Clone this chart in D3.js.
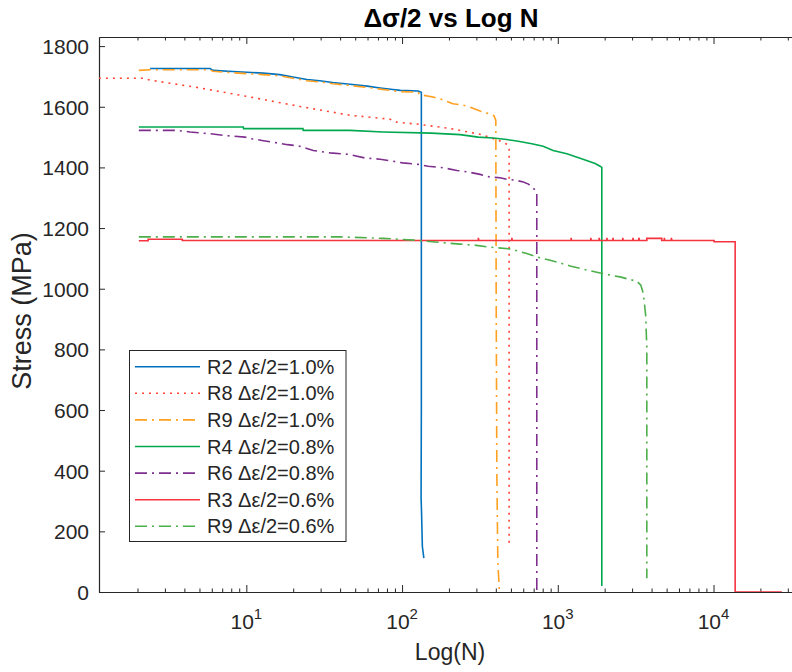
<!DOCTYPE html>
<html><head><meta charset="utf-8">
<script src="https://cdn.jsdelivr.net/npm/d3@7"></script>
<style>
body{margin:0;background:#fff;}
text{font-family:"Liberation Sans",Arial,Helvetica,sans-serif;}
</style>
</head><body>
<svg id="chart" width="792" height="672"></svg>
<script>
// ---------- data (N cycles, stress MPa) ----------
const titleText = "Δσ/2 vs Log N";
const xLabel = "Log(N)";
const yLabel = "Stress (MPa)";
const xTickExponents = [1, 2, 3, 4];
const yTickValues = [0, 200, 400, 600, 800, 1000, 1200, 1400, 1600, 1800];
const seriesNames = ["R2 Δε/2=1.0%", "R8 Δε/2=1.0%", "R9 Δε/2=1.0%", "R4 Δε/2=0.8%", "R6 Δε/2=0.8%", "R3 Δε/2=0.6%", "R9 Δε/2=0.6%"];

const r2 = [[2.41,1726],[5.85,1726],[6.1,1720],[8.2,1716],[12.8,1711],[16.4,1706],[19.9,1698],[24.5,1690],[29.6,1686],[35.9,1680],[46.3,1674],[59.6,1668],[72.3,1662],[87.3,1657],[97.5,1654],[126.7,1652],[133,1648],[133,600],[132.5,310],[133.5,255],[135,150],[138,112]];
const r8 = [[1.13,1694],[2.17,1694],[2.41,1688],[5.04,1662],[10.6,1632],[22.1,1601],[46.3,1572],[83.7,1559],[92.9,1549],[124,1543],[200,1529],[325,1508],[432,1486],[472,1476],[487,1460],[487,155]];
const r9a = [[2.04,1720],[2.41,1722],[5.85,1722],[6.1,1717],[8.2,1712],[12.8,1706],[16.4,1702],[19.9,1694],[24.5,1686],[29.6,1682],[35.9,1676],[46.3,1670],[59.6,1664],[72.3,1658],[87.3,1653],[97.5,1650],[126.7,1648],[130,1640],[158,1632],[183,1623],[212,1610],[243,1606],[273,1599],[317,1586],[367,1576],[390,1570],[400,1555],[402,1000],[406,400],[412,100],[422,0]];
const r4 = [[2.04,1533],[9.56,1533],[9.6,1528],[23.1,1528],[23.2,1522],[46.3,1522],[75.5,1517],[154,1513],[236,1508],[308,1500],[386,1497],[470,1492],[545,1487],[681,1478],[805,1470],[933,1456],[1143,1445],[1452,1427],[1736,1413],[1869,1404],[1917,1400],[1917,20]];
const r6 = [[2.04,1522],[3.59,1522],[4.35,1517],[5.84,1511],[7.3,1505],[9.8,1500],[10.6,1495],[12.6,1489],[15.7,1481],[18.4,1475],[21.6,1471],[26.9,1456],[34.5,1448],[45.2,1443],[57.8,1431],[72.3,1427],[86,1421],[101,1415],[127,1410],[147,1404],[183,1399],[225,1390],[265,1385],[317,1377],[367,1368],[426,1366],[470,1361],[532,1358],[601,1352],[648,1345],[720,1325],[733,1319],[733,0]];
const r3 = [[2.04,1158],[2.34,1158],[2.34,1163],[3.88,1163],[3.88,1159],[309,1159],[309,1168],[311,1159],[507,1159],[507,1168],[510,1159],[1218,1159],[1218,1168],[1225,1159],[1628,1159],[1628,1168],[1640,1159],[1843,1159],[1843,1168],[1855,1159],[2067,1159],[2067,1168],[2080,1159],[2260,1159],[2260,1168],[2275,1159],[2612,1159],[2612,1168],[2630,1159],[3038,1159],[3038,1168],[3060,1159],[3314,1159],[3314,1168],[3340,1159],[3730,1159],[3730,1166],[4650,1166],[4650,1159],[4830,1159],[4830,1168],[4860,1159],[5360,1159],[5360,1168],[5400,1159],[10090,1159],[10090,1155],[13770,1155],[13770,0],[27470,0]];
const r9b = [[2.04,1171],[40.2,1171],[75.5,1166],[124,1160],[163,1154],[236,1147],[300,1143],[350,1138],[482,1132],[530,1127],[632,1116],[770,1102],[893,1094],[1035,1085],[1199,1075],[1391,1067],[1614,1059],[1869,1052],[2167,1045],[2512,1039],[2914,1030],[3215,1025],[3413,1012],[3515,990],[3583,962],[3675,907],[3700,853],[3730,814],[3730,45]];
const seriesData = [r2, r8, r9a, r4, r6, r3, r9b];

// ---------- styles ----------
const seriesColors = ["#0072BD", "#FF4433", "#FFA020", "#00A84F", "#7E2F8E", "#F5333F", "#4DAF4A"];
const seriesDash = [null, "2,5", "12,5,2,5", null, "12,5,2,5", null, "12,5,2,5"];
const seriesWidth = [1.6, 1.6, 1.6, 1.6, 1.6, 1.6, 1.6];

const svg = d3.select("#chart");
const M = {left: 99, top: 37, right: 802, bottom: 592};
const axisColor = "#262626";

const x = d3.scaleLog().domain([1.132, 37000]).range([M.left, M.right]);
const y = d3.scaleLinear().domain([0, 1830]).range([M.bottom, M.top]);

svg.append("defs").append("clipPath").attr("id", "clip")
  .append("rect").attr("x", M.left).attr("y", M.top)
  .attr("width", M.right - M.left).attr("height", M.bottom - M.top);

// minor ticks
const minorTicks = [];
for (let e = 0; e <= 4; e++) for (let m = 2; m <= 9; m++) {
  const v = m * Math.pow(10, e);
  if (v >= x.domain()[0] && v <= x.domain()[1]) minorTicks.push(v);
}
const majorTicks = xTickExponents.map(e => Math.pow(10, e));

function styleAxis(g) {
  g.selectAll("path.domain").attr("stroke", axisColor).attr("stroke-width", 1.2);
  g.selectAll(".tick line").attr("stroke", axisColor).attr("stroke-width", 1);
}

// bottom axis
svg.append("g").attr("transform", `translate(0,${M.bottom})`)
  .call(d3.axisBottom(x).tickValues(minorTicks).tickSize(-3.5).tickSizeOuter(0).tickFormat(""))
  .call(styleAxis);
svg.append("g").attr("transform", `translate(0,${M.bottom})`)
  .call(d3.axisBottom(x).tickValues(majorTicks).tickSize(-7).tickSizeOuter(0).tickFormat(""))
  .call(styleAxis);
// top axis
svg.append("g").attr("transform", `translate(0,${M.top})`)
  .call(d3.axisTop(x).tickValues(minorTicks).tickSize(-3.5).tickSizeOuter(0).tickFormat(""))
  .call(styleAxis);
svg.append("g").attr("transform", `translate(0,${M.top})`)
  .call(d3.axisTop(x).tickValues(majorTicks).tickSize(-7).tickSizeOuter(0).tickFormat(""))
  .call(styleAxis);
// left axis
const yAxisG = svg.append("g").attr("transform", `translate(${M.left},0)`)
  .call(d3.axisLeft(y).tickValues(yTickValues).tickFormat(d3.format("d")).tickSize(-6).tickSizeOuter(0).tickPadding(10))
  .call(styleAxis);
yAxisG.selectAll("text").attr("font-size", 21).attr("fill", axisColor)
  .attr("font-family", "Liberation Sans, Arial, sans-serif").attr("dy", "0.36em");
// right axis (box)
svg.append("g").attr("transform", `translate(${M.right},0)`)
  .call(d3.axisRight(y).tickValues(yTickValues).tickSize(-6).tickSizeOuter(0).tickFormat(""))
  .call(styleAxis);

// x tick labels with superscripts
const xl = svg.append("g");
xTickExponents.forEach(e => {
  const t = xl.append("text").attr("x", x(Math.pow(10, e))).attr("y", 629)
    .attr("text-anchor", "middle").attr("fill", axisColor).attr("font-size", 21);
  t.append("tspan").text("10");
  t.append("tspan").attr("dy", -10).attr("font-size", 15).text(String(e));
});

// lines
const line = d3.line().x(d => x(d[0])).y(d => y(d[1]));
const plotG = svg.append("g").attr("clip-path", "url(#clip)");
seriesData.forEach((data, i) => {
  plotG.append("path").datum(data).attr("d", line)
    .attr("fill", "none").attr("stroke", seriesColors[i])
    .attr("stroke-width", seriesWidth[i])
    .attr("stroke-dasharray", seriesDash[i]);
});

// title & labels
svg.append("text").attr("x", 451).attr("y", 27).attr("text-anchor", "middle")
  .attr("font-size", 26).attr("font-weight", "bold").attr("fill", "#000").text(titleText);
svg.append("text").attr("x", 450).attr("y", 660).attr("text-anchor", "middle")
  .attr("font-size", 23).attr("fill", axisColor).text(xLabel);
svg.append("text").attr("transform", "translate(31,311) rotate(-90)").attr("text-anchor", "middle")
  .attr("font-size", 27).attr("fill", axisColor).text(yLabel);

// legend
const lg = svg.append("g");
lg.append("rect").attr("x", 129.5).attr("y", 350.5).attr("width", 216.5).attr("height", 191)
  .attr("fill", "#fff").attr("stroke", axisColor).attr("stroke-width", 1);
seriesNames.forEach((name, i) => {
  const yy = 366.7 + i * 26.6;
  lg.append("line").attr("x1", 135).attr("x2", 200).attr("y1", yy).attr("y2", yy)
    .attr("stroke", seriesColors[i]).attr("stroke-width", seriesWidth[i])
    .attr("stroke-dasharray", seriesDash[i]);
  lg.append("text").attr("x", 207).attr("y", yy + 7).attr("font-size", 20)
    .attr("fill", axisColor).text(name);
});
</script>
</body></html>
